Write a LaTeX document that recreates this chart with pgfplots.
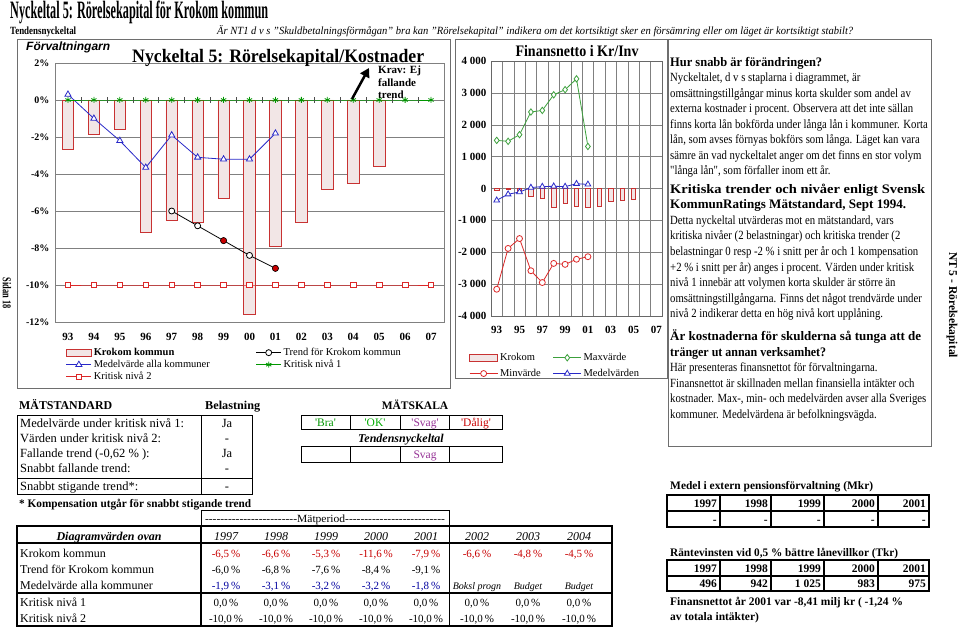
\documentclass[border=0pt]{standalone}
\usepackage{pgfplots}
\pgfplotsset{compat=1.18}
\usetikzlibrary{arrows.meta}
\usepackage{graphicx}
\usepackage{fontspec}
\setmainfont{Liberation Serif}
\newfontfamily\sansf{Liberation Sans}
\newfontfamily\condf{Liberation Serif}[FakeStretch=0.86]
\definecolor{barfill}{RGB}{242,230,230}
\definecolor{barred}{RGB}{200,50,50}
\definecolor{gridg}{RGB}{128,128,128}
\definecolor{mblue}{RGB}{40,40,200}
\definecolor{kgreen}{RGB}{0,150,0}
\definecolor{kred}{RGB}{220,40,40}
\definecolor{maxg}{RGB}{60,160,60}
\definecolor{valred}{RGB}{200,0,0}
\definecolor{valblue}{RGB}{0,0,160}
\definecolor{svag}{RGB}{150,50,150}
\definecolor{okg}{RGB}{0,170,0}
\definecolor{frame}{RGB}{110,110,110}
\newcommand{\fitw}[2]{\resizebox{#1}{\height}{#2}}
\newcommand{\fs}[1]{\fontsize{#1}{#1}\selectfont}
\newcommand{\pl}[2]{\node[anchor=base west,inner sep=0] at (670,#1) {\condf\fs{12.5}#2};}
\newcommand{\hl}[3]{\node[anchor=base west,inner sep=0] at (670,#1) {\fitw{#2pt}{\fs{13}\bfseries #3}};}
\newcommand{\tx}[3]{\node[anchor=base west,inner sep=0] at (#1,#2) {#3};}
\newcommand{\tc}[3]{\node[anchor=base,inner sep=0] at (#1,#2) {#3};}
\newcommand{\te}[3]{\node[anchor=base east,inner sep=0] at (#1,#2) {#3};}
\newcommand{\dsh}{-{}-{}-{}-{}-{}-{}-{}-{}-{}-{}-{}-{}-{}-{}-{}-{}-{}-{}-{}-{}-{}-{}-{}-{}}
\begin{document}
\begin{tikzpicture}
\useasboundingbox (0pt,0pt) rectangle (960pt,-628pt);
\fill[white] (0pt,0pt) rectangle (960pt,-628pt);

% ---------------- left chart ----------------
\begin{axis}[
  at={(55pt,-322pt)}, anchor=south west,
  scale only axis, width=389pt, height=259pt,
  xmin=-0.5, xmax=14.5, ymin=-12, ymax=2,
  xtick={0,...,14},
  xticklabels={93,94,95,96,97,98,99,00,01,02,03,04,05,06,07},
  ytick={-12,-10,-8,-6,-4,-2,0,2},
  yticklabels={-12\%,-10\%,-8\%,-6\%,-4\%,-2\%,0\%,2\%},
  major tick length=0pt,
  ymajorgrids,
  major grid style={gridg, line width=0.5pt},
  axis line style={gridg, line width=0.5pt},
  tick label style={font=\fs{11}\bfseries},
  yticklabel style={font=\fs{10}\bfseries, xshift=-2pt},
  xticklabel style={yshift=-8pt},
  clip=false,
  legend columns=2,
  legend cell align=left,
  legend style={at={(0.02,-0.085)}, anchor=north west, draw=none, fill=none,
    font=\fs{10.5}, row sep=-1pt,
    /tikz/every even column/.append style={column sep=44pt}},
  legend image code/.code={\draw[mark repeat=2,mark phase=2,#1] plot coordinates {(0pt,0pt)(12.5pt,0pt)(25pt,0pt)};},
]
\addplot[ybar, bar width=11.5pt, fill=barfill, draw=barred, line width=0.6pt,
  legend image code/.code={\draw[barred,fill=barfill,line width=0.6pt] (0pt,-3.5pt) rectangle (25pt,3.5pt);}]
  coordinates {(0,-2.65)(1,-1.85)(2,-1.6)(3,-7.15)(4,-6.5)(5,-6.6)(6,-5.3)(7,-11.6)(8,-7.9)(9,-6.6)(10,-4.8)(11,-4.5)(12,-3.6)};
\addlegendentry{\textbf{Krokom kommun}}
\addplot[black, line width=0.8pt, mark=*, mark size=3pt, mark options={fill=white}]
  coordinates {(4,-6.0)(5,-6.8)(6,-7.6)(7,-8.4)(8,-9.1)};
\addlegendentry{Trend för Krokom kommun}
\addplot[only marks, mark=*, mark size=3pt, mark options={fill=valred, draw=black}, forget plot]
  coordinates {(6,-7.6)(8,-9.1)};
\addplot[mblue, line width=0.8pt, mark=triangle*, mark size=3.5pt, mark options={fill=white}]
  coordinates {(0,0.3)(1,-1.0)(2,-2.2)(3,-3.65)(4,-1.9)(5,-3.1)(6,-3.2)(7,-3.2)(8,-1.8)};
\addlegendentry{Medelvärde alla kommuner}
\addplot[kgreen, line width=0.8pt, mark=asterisk, mark size=3pt]
  coordinates {(0,0)(1,0)(2,0)(3,0)(4,0)(5,0)(6,0)(7,0)(8,0)(9,0)(10,0)(11,0)(12,0)(13,0)(14,0)};
\addlegendentry{Kritisk nivå 1}
\addplot[kred, line width=0.8pt, mark=square*, mark size=2.8pt, mark options={fill=white}]
  coordinates {(0,-10)(1,-10)(2,-10)(3,-10)(4,-10)(5,-10)(6,-10)(7,-10)(8,-10)(9,-10)(10,-10)(11,-10)(12,-10)(13,-10)(14,-10)};
\addlegendentry{Kritisk nivå 2}
\pgfplotsinvokeforeach{0.5,1.5,...,13.5}{\draw[gridg!60!black, line width=0.5pt] (axis cs:#1,0) ++(0pt,-3pt) -- ++(0pt,6pt);}
\end{axis}

% ---------------- middle chart ----------------
\begin{axis}[
  at={(491pt,-316pt)}, anchor=south west,
  scale only axis, width=171pt, height=255pt,
  xmin=-0.5, xmax=14.5, ymin=-4000, ymax=4000,
  xtick={0,2,...,14}, xticklabels={93,95,97,99,01,03,05,07},
  minor xtick={0.5,1.5,...,13.5},
  ytick={-4000,-3000,-2000,-1000,0,1000,2000,3000,4000},
  yticklabels={-4 000,-3 000,-2 000,-1 000,0,1 000,2 000,3 000,4 000},
  major tick length=0pt, minor tick length=0pt,
  ymajorgrids, xminorgrids,
  major grid style={gridg, line width=0.5pt},
  minor grid style={gridg, line width=0.5pt},
  axis line style={gridg!80!black, line width=0.5pt},
  tick label style={font=\fs{11}\bfseries},
  xticklabel style={yshift=-7pt},
  yticklabel style={xshift=-1pt},
  clip=false,
  legend columns=2, legend cell align=left,
  legend style={at={(-0.146,-0.13)}, anchor=north west, draw=none, fill=none,
    font=\fs{10.5}, row sep=3pt,
    /tikz/every even column/.append style={column sep=10pt}},
  legend image code/.code={\draw[mark repeat=2,mark phase=2,#1] plot coordinates {(0pt,0pt)(14pt,0pt)(28pt,0pt)};},
]
\addplot[ybar, bar width=4.5pt, fill=barfill, draw=barred, line width=0.6pt,
  legend image code/.code={\draw[barred,fill=barfill,line width=0.6pt] (0pt,-3.5pt) rectangle (28pt,3.5pt);}]
  coordinates {(0,-50)(1,-30)(2,-100)(3,-230)(4,-300)(5,-590)(6,-470)(7,-560)(8,-590)(9,-560)(10,-410)(11,-360)(12,-350)};
\addlegendentry{Krokom}
\addplot[maxg, line width=0.8pt, mark=diamond*, mark size=3.2pt, mark options={fill=white}]
  coordinates {(0,1510)(1,1480)(2,1690)(3,2400)(4,2450)(5,2940)(6,3100)(7,3440)(8,1320)};
\addlegendentry{Maxvärde}
\addplot[kred, line width=0.8pt, mark=*, mark size=3pt, mark options={fill=white}]
  coordinates {(0,-3160)(1,-1880)(2,-1570)(3,-2580)(4,-2950)(5,-2350)(6,-2380)(7,-2220)(8,-2140)};
\addlegendentry{Minvärde}
\addplot[mblue, line width=0.8pt, mark=triangle*, mark size=3.3pt, mark options={fill=white}]
  coordinates {(0,-370)(1,-180)(2,-110)(3,30)(4,60)(5,70)(6,60)(7,150)(8,130)};
\addlegendentry{Medelvärden}
\end{axis}

\begin{scope}[x=1pt,y=-1pt]
% frames
\draw[frame, line width=0.6pt] (17,39) rectangle (450,388);
\draw[frame, line width=0.6pt] (455,39) rectangle (667,378);
\draw[frame, line width=0.6pt] (668,39) rectangle (931,446);
% titles
\tx{10}{19}{\fitw{258pt}{\fs{25}\bfseries Nyckeltal 5: Rörelsekapital för Krokom kommun}}
\tx{10}{34.5}{\fitw{66pt}{\fs{11}\bfseries Tendensnyckeltal}}
\tx{217}{34.5}{\fitw{636pt}{\fs{11}\itshape Är NT1 d v s "Skuldbetalningsförmågan" bra kan "Rörelsekapital" indikera om det kortsiktigt sker en försämring eller om läget är kortsiktigt stabilt?}}
\node[rotate=-90, inner sep=0] at (7,293) {\fitw{31pt}{\fs{12}\bfseries Sidan 18}};
\node[rotate=-90, inner sep=0] at (952,305) {\fitw{106pt}{\fs{12}\bfseries NT 5 - Rörelsekapital}};
% left chart texts
\tx{26}{51}{\sansf\fs{12}\bfseries\itshape Förvaltningarn}
\tx{132}{62.5}{\fitw{292pt}{\fs{19}\bfseries Nyckeltal 5: Rörelsekapital/Kostnader}}
\tx{378}{74}{\fs{11}\bfseries Krav: Ej}
\tx{378}{86.5}{\fs{11}\bfseries fallande}
\tx{378}{98.5}{\fs{11}\bfseries trend}
\draw[line width=2.5pt, -{Triangle[length=9pt,width=10pt]}] (352,99) -- (369,68);
\tc{577}{57}{\fitw{123pt}{\fs{16}\bfseries Finansnetto i Kr/Inv}}
% right panel
\hl{66.5}{152}{Hur snabb är förändringen?}
\pl{82}{Nyckeltalet, d v s staplarna i diagrammet, är}
\pl{97.5}{omsättningstillgångar minus korta skulder som andel av}
\pl{113}{externa kostnader i procent. Observera att det inte sällan}
\pl{128.5}{finns korta lån bokförda under långa lån i kommuner. Korta}
\pl{144}{lån, som avses förnyas bokförs som långa. Läget kan vara}
\pl{159.5}{sämre än vad nyckeltalet anger om det finns en stor volym}
\pl{175}{"långa lån", som förfaller inom ett år.}
\hl{193.5}{255}{Kritiska trender och nivåer enligt Svensk}
\hl{209}{236}{KommunRatings Mätstandard, Sept 1994.}
\pl{224.5}{Detta nyckeltal utvärderas mot en mätstandard, vars}
\pl{240}{kritiska nivåer (2 belastningar) och kritiska trender (2}
\pl{255.5}{belastningar 0 resp -2 \% i snitt per år och 1 kompensation}
\pl{271}{+2 \% i snitt per år) anges i procent. Värden under kritisk}
\pl{286.5}{nivå 1 innebär att volymen korta skulder är större än}
\pl{302}{omsättningstillgångarna. Finns det något trendvärde under}
\pl{317.5}{nivå 2 indikerar detta en hög nivå kort upplåning.}
\hl{340.5}{251}{Är kostnaderna för skulderna så tunga att de}
\hl{356}{156}{tränger ut annan verksamhet?}
\pl{371.5}{Här presenteras finansnettot för förvaltningarna.}
\pl{387}{Finansnettot är skillnaden mellan finansiella intäkter och}
\pl{402.5}{kostnader. Max-, min- och medelvärden avser alla Sveriges}
\pl{418}{kommuner. Medelvärdena är befolkningsvägda.}
% ---------- MÄTSTANDARD ----------
\tx{19}{409}{\fitw{93pt}{\fs{12}\bfseries MÄTSTANDARD}}
\tx{205}{409}{\fitw{55pt}{\fs{12}\bfseries Belastning}}
\tc{415}{409}{\fs{11.5}\bfseries MÄTSKALA}
\draw[line width=1pt] (17,415) rectangle (252,494);
\draw[line width=1pt] (201,415) -- (201,494);
\draw[line width=1pt] (17,478) -- (252,478);
\tx{20}{427}{\fs{12.5}Medelvärde under kritisk nivå 1:}
\tx{20}{442}{\fs{12.5}Värden under kritisk nivå 2:}
\tx{20}{457}{\fs{12.5}Fallande trend (-0,62 \% ):}
\tx{20}{472.5}{\fs{12.5}Snabbt fallande trend:}
\tx{20}{490.5}{\fs{12.5}Snabbt stigande trend*:}
\tc{227}{427}{\fs{12.5}Ja}
\tc{227}{442}{\fs{12.5}-}
\tc{227}{457}{\fs{12.5}Ja}
\tc{227}{472.5}{\fs{12.5}-}
\tc{227}{490.5}{\fs{12.5}-}
\tx{19}{507}{\fitw{232pt}{\fs{11.5}\bfseries * Kompensation utgår för snabbt stigande trend}}
% MÄTSKALA boxes
\draw[line width=1pt] (301,415) rectangle (502,429);
\draw[line width=1pt] (301,446) rectangle (502,462);
\foreach \xx in {350,400,449.5}{\draw[line width=1pt] (\xx,415) -- (\xx,429); \draw[line width=1pt] (\xx,446) -- (\xx,462);}
\tc{325.5}{426}{\fs{11.5}\color{kgreen}\textquotesingle Bra\textquotesingle}
\tc{375}{426}{\fs{11.5}\color{okg}\textquotesingle OK\textquotesingle}
\tc{425}{426}{\fs{11.5}\color{svag}\textquotesingle Svag\textquotesingle}
\tc{476}{426}{\fs{11.5}\color{valred}\textquotesingle Dålig\textquotesingle}
\tc{401}{442}{\fs{12}\bfseries\itshape Tendensnyckeltal}
\tc{425}{458}{\fs{11.5}\color{svag}Svag}
% ---------- main table ----------
\draw[line width=1pt] (201,510) rectangle (449.5,526);
\tc{325}{522}{\fitw{240pt}{\fs{11}\dsh Mätperiod\dsh-{}-}}
\draw[line width=1.2pt] (17,526) rectangle (612,626);
\draw[line width=2pt] (17,543) -- (612,543);
\draw[line width=2pt] (17,593) -- (612,593);
\draw[line width=1.2pt] (201,526) -- (201,626);
\draw[line width=1.2pt] (449.5,526) -- (449.5,626);
\tc{109}{540}{\fs{12}\bfseries\itshape Diagramvärden ovan}
\foreach \xx/\yy in {226/1997,276/1998,326/1999,376/2000,426/2001,477/2002,528/2003,579/2004}{\tc{\xx}{540}{\fs{12}\itshape \yy}}
\tx{20}{557}{\fs{12}Krokom kommun}
\tx{20}{573}{\fs{12}Trend för Krokom kommun}
\tx{20}{589}{\fs{12}Medelvärde alla kommuner}
\tx{20}{606}{\fs{12}Kritisk nivå 1}
\tx{20}{622}{\fs{12}Kritisk nivå 2}
\foreach \xx/\yy in {226/{-6,5},276/{-6,6},326/{-5,3},376/{-11,6},426/{-7,9},477/{-6,6},528/{-4,8},579/{-4,5}}{\tc{\xx}{557}{\fs{11}\color{valred}\yy\,\%}}
\foreach \xx/\yy in {226/{-6,0},276/{-6,8},326/{-7,6},376/{-8,4},426/{-9,1}}{\tc{\xx}{573}{\fs{11}\yy\,\%}}
\foreach \xx/\yy in {226/{-1,9},276/{-3,1},326/{-3,2},376/{-3,2},426/{-1,8}}{\tc{\xx}{589}{\fs{11}\color{valblue}\yy\,\%}}
\tc{477}{589}{\fs{10}\itshape Boksl progn}
\tc{528}{589}{\fs{10}\itshape Budget}
\tc{579}{589}{\fs{10}\itshape Budget}
\foreach \xx in {226,276,326,376,426,477,528,579}{\tc{\xx}{606}{\fs{11}0,0\,\%}\tc{\xx}{622}{\fs{11}-10,0\,\%}}
% ---------- right bottom tables ----------
\tx{670}{489}{\fitw{203pt}{\fs{11.5}\bfseries Medel i extern pensionsförvaltning (Mkr)}}
\draw[line width=1.2pt] (667,495) rectangle (929,527);
\draw[line width=1.2pt] (667,511) -- (929,511);
\foreach \xx in {720,771,824,878}{\draw[line width=1.2pt] (\xx,495) -- (\xx,527);}
\foreach \xx/\yy in {717/1997,768/1998,821/1999,875/2000,926/2001}{\te{\xx}{507}{\fs{11.5}\bfseries \yy}\te{\xx}{523}{\fs{11.5}\bfseries -}}
\tx{670}{556}{\fitw{228pt}{\fs{11.5}\bfseries Räntevinsten vid 0,5 \% bättre lånevillkor (Tkr)}}
\draw[line width=1.2pt] (667,560) rectangle (929,591);
\draw[line width=1.2pt] (667,576) -- (929,576);
\foreach \xx in {720,771,824,878}{\draw[line width=1.2pt] (\xx,560) -- (\xx,591);}
\foreach \xx/\yy/\vv in {717/1997/496,768/1998/942,821/1999/1 025,875/2000/983,926/2001/975}{\te{\xx}{572}{\fs{11.5}\bfseries \yy}\te{\xx}{587.5}{\fs{11.5}\bfseries \vv}}
\tx{670}{605}{\fs{11.5}\bfseries Finansnettot år 2001 var -8,41 milj kr ( -1,24 \%}
\tx{670}{620}{\fs{11.5}\bfseries av totala intäkter)}
\end{scope}
\end{tikzpicture}
\end{document}
